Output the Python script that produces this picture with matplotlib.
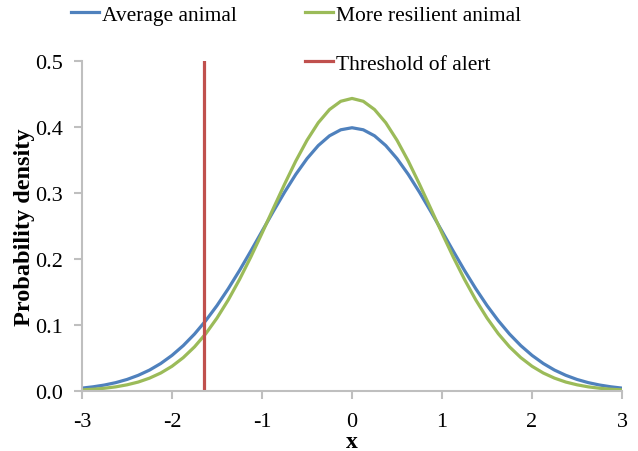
import matplotlib.pyplot as plt
from matplotlib.lines import Line2D

plt.rcParams["font.family"] = ["Liberation Serif", "DejaVu Serif"]

# values
x = [-3.0, -2.875, -2.75, -2.625, -2.5, -2.375, -2.25, -2.125, -2.0, -1.875, -1.75, -1.625,
     -1.5, -1.375, -1.25, -1.125, -1.0, -0.875, -0.75, -0.625, -0.5, -0.375, -0.25, -0.125,
     0.0, 0.125, 0.25, 0.375, 0.5, 0.625, 0.75, 0.875, 1.0, 1.125, 1.25, 1.375, 1.5, 1.625,
     1.75, 1.875, 2.0, 2.125, 2.25, 2.375, 2.5, 2.625, 2.75, 2.875, 3.0]
average = [0.0044, 0.0064, 0.0091, 0.0127, 0.0175, 0.0238, 0.0317, 0.0417, 0.054, 0.0688,
           0.0863, 0.1066, 0.1295, 0.155, 0.1826, 0.2119, 0.242, 0.272, 0.3011, 0.3282,
           0.3521, 0.3719, 0.3867, 0.3958, 0.3989, 0.3958, 0.3867, 0.3719, 0.3521, 0.3282,
           0.3011, 0.272, 0.242, 0.2119, 0.1826, 0.155, 0.1295, 0.1066, 0.0863, 0.0688,
           0.054, 0.0417, 0.0317, 0.0238, 0.0175, 0.0127, 0.0091, 0.0064, 0.0044]
resilient = [0.0017, 0.0027, 0.0042, 0.0063, 0.0094, 0.0136, 0.0195, 0.0273, 0.0375, 0.0506,
             0.0669, 0.0868, 0.1106, 0.138, 0.169, 0.2029, 0.2391, 0.2764, 0.3132, 0.3484,
             0.3799, 0.4065, 0.4265, 0.439, 0.4433, 0.439, 0.4265, 0.4065, 0.3799, 0.3484,
             0.3132, 0.2764, 0.2391, 0.2029, 0.169, 0.138, 0.1106, 0.0868, 0.0669, 0.0506,
             0.0375, 0.0273, 0.0195, 0.0136, 0.0094, 0.0063, 0.0042, 0.0027, 0.0017]
threshold_x = [-1.645, -1.645]
threshold_y = [0.0, 0.5]

fig = plt.figure(figsize=(6.38, 4.52), dpi=100)
ax = fig.add_axes([0.1285, 0.1327, 0.8465, 0.7301])

l1, = ax.plot(x, average, color="#4F81BD", lw=2.3, label="Average animal")
l2, = ax.plot(x, resilient, color="#9BBB59", lw=2.3, label="More resilient animal")
l3, = ax.plot(threshold_x, threshold_y, color="#C0504D", lw=2.3, label="Threshold of alert")

ax.set_xlim(-3, 3)
ax.set_ylim(0, 0.5)
ax.set_xticks([-3, -2, -1, 0, 1, 2, 3])
ax.set_xticklabels(["-3", "-2", "-1", "0", "1", "2", "3"])
ax.set_yticks([0, 0.1, 0.2, 0.3, 0.4, 0.5])
ax.set_yticklabels(["0.0", "0.1", "0.2", "0.3", "0.4", "0.5"])

for s in ["top", "right"]:
    ax.spines[s].set_visible(False)
for s in ["left", "bottom"]:
    ax.spines[s].set_color("#BFBFBF")
    ax.spines[s].set_linewidth(1.5)
ax.tick_params(axis="both", colors="#BFBFBF", length=6, width=1.5, labelsize=16,
               labelcolor="black", pad=9)
ax.tick_params(axis="y", pad=8)

ax.set_xlabel("x", fontsize=17, fontweight="bold", labelpad=0)
ax.set_ylabel("Probability density", fontsize=17.5, fontweight="bold", labelpad=0)

blank = Line2D([], [], color="none")
fig.legend([l1, blank, l2, l3], ["Average animal", "", "More resilient animal", "Threshold of alert"],
           ncol=2, loc="upper left", bbox_to_anchor=(0.081, 1.03), frameon=False,
           fontsize=15.5, handlelength=1.3, handletextpad=0.15, columnspacing=3.15,
           labelspacing=1.35)

fig.savefig("out.png", dpi=100)
